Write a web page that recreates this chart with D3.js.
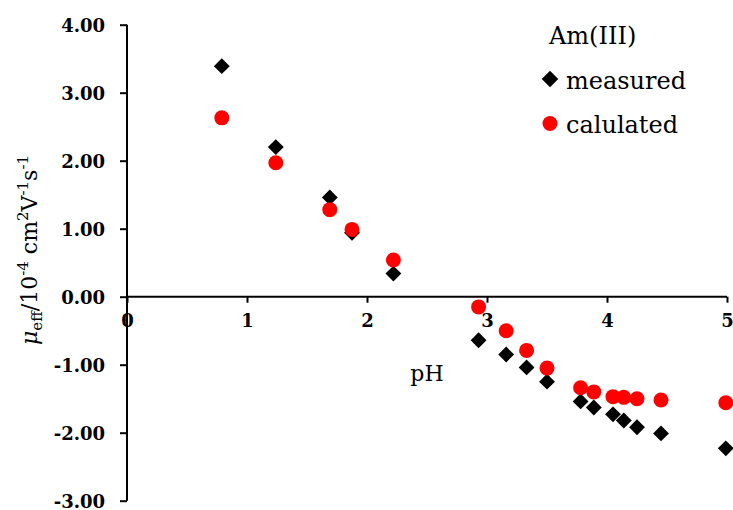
<!DOCTYPE html>
<html><head><meta charset="utf-8">
<script src="https://cdn.jsdelivr.net/npm/d3@7"></script>
<style>body{margin:0;background:#fff}svg{display:block}</style>
</head><body>
<script>
const measuredPH  = [0.79, 1.24, 1.69, 1.875, 2.22, 2.93, 3.16, 3.33, 3.50, 3.78, 3.89, 4.05, 4.14, 4.25, 4.45, 4.99];
const measuredMu  = [3.39, 2.20, 1.46, 0.94, 0.34, -0.64, -0.85, -1.04, -1.25, -1.54, -1.63, -1.73, -1.82, -1.92, -2.01, -2.23];
const calcPH      = [0.79, 1.24, 1.69, 1.875, 2.22, 2.93, 3.16, 3.33, 3.50, 3.78, 3.89, 4.05, 4.14, 4.25, 4.45, 4.99];
const calcMu      = [2.63, 1.97, 1.28, 0.99, 0.54, -0.15, -0.50, -0.79, -1.05, -1.34, -1.40, -1.47, -1.48, -1.50, -1.52, -1.56];
const xTicks = [0, 1, 2, 3, 4, 5];
const yTicks = [-3, -2, -1, 0, 1, 2, 3, 4];
const legendTitle = "Am(III)";
const seriesNames = ["measured", "calulated"];

const W = 733, H = 510;
const svg = d3.select("body").append("svg").attr("width", W).attr("height", H);
const x = d3.scaleLinear().domain([0, 5]).range([127, 727]);
const y = d3.scaleLinear().domain([-3, 4]).range([500.7, 24.7]);
const serif = "'DejaVu Serif', serif";
const f2 = d3.format(".2f");

// Y axis
const yAxis = svg.append("g").attr("transform", `translate(${x(0)},0)`)
  .call(d3.axisLeft(y).tickValues(yTicks).tickSize(7).tickPadding(15).tickFormat(d => f2(d).replace("\u2212", "-")));
yAxis.select(".domain").attr("stroke-width", 2).attr("d", `M0,${y(4)}V${y(-3)}`);
yAxis.selectAll(".tick line").attr("stroke-width", 2);
yAxis.selectAll(".tick text").attr("font-family", serif).attr("font-weight", "bold").attr("font-size", 18).attr("fill", "#000").attr("dy", "0.35em");

// X axis at y=0
const xAxis = svg.append("g").attr("transform", `translate(0,${y(0)})`)
  .call(d3.axisBottom(x).tickValues(xTicks).tickSize(6).tickPadding(12).tickFormat(d3.format("d")));
xAxis.select(".domain").attr("stroke-width", 2).attr("d", `M${x(0)},0H${x(5)}`);
xAxis.selectAll(".tick line").attr("stroke-width", 2);
xAxis.selectAll(".tick text").attr("font-family", serif).attr("font-weight", "bold").attr("font-size", 18).attr("fill", "#000");

// data
const diamond = d3.symbol().type(d3.symbolDiamond2).size(160);
svg.append("g").selectAll("path").data(measuredPH.map((p, i) => [p, measuredMu[i]])).join("path")
  .attr("d", diamond).attr("fill", "#000")
  .attr("transform", d => `translate(${x(d[0])},${y(d[1])})`);
svg.append("g").selectAll("circle").data(calcPH.map((p, i) => [p, calcMu[i]])).join("circle")
  .attr("cx", d => x(d[0])).attr("cy", d => y(d[1])).attr("r", 7.5).attr("fill", "#ff0000");

// axis titles
svg.append("text").attr("x", 427).attr("y", 381).attr("text-anchor", "middle")
  .attr("font-family", serif).attr("font-size", 22).attr("fill", "#000").text("pH");

const yl = svg.append("text").attr("transform", "translate(37,250) rotate(-90)").attr("text-anchor", "middle")
  .attr("font-family", serif).attr("font-size", 22).attr("fill", "#000");
yl.append("tspan").attr("font-style", "italic").text("μ");
yl.append("tspan").attr("font-size", 15).attr("dy", 5).text("eff");
yl.append("tspan").attr("dy", -5).text("/10");
yl.append("tspan").attr("font-size", 15).attr("dy", -9).text("-4");
yl.append("tspan").attr("dy", 9).text(" cm");
yl.append("tspan").attr("font-size", 15).attr("dy", -9).text("2");
yl.append("tspan").attr("dy", 9).text("V");
yl.append("tspan").attr("font-size", 15).attr("dy", -9).text("-1");
yl.append("tspan").attr("dy", 9).text("s");
yl.append("tspan").attr("font-size", 15).attr("dy", -9).text("-1");

// legend
const lg = svg.append("g").attr("font-family", serif).attr("font-size", 24).attr("fill", "#000");
lg.append("text").attr("x", 549).attr("y", 44).text(legendTitle);
lg.append("path").attr("d", d3.symbol().type(d3.symbolDiamond2).size(175)).attr("fill", "#000").attr("transform", "translate(550,79)");
lg.append("text").attr("x", 566).attr("y", 89).text(seriesNames[0]);
lg.append("circle").attr("cx", 550).attr("cy", 123.5).attr("r", 7.5).attr("fill", "#ff0000");
lg.append("text").attr("x", 566).attr("y", 133).text(seriesNames[1]);
</script>
</body></html>
